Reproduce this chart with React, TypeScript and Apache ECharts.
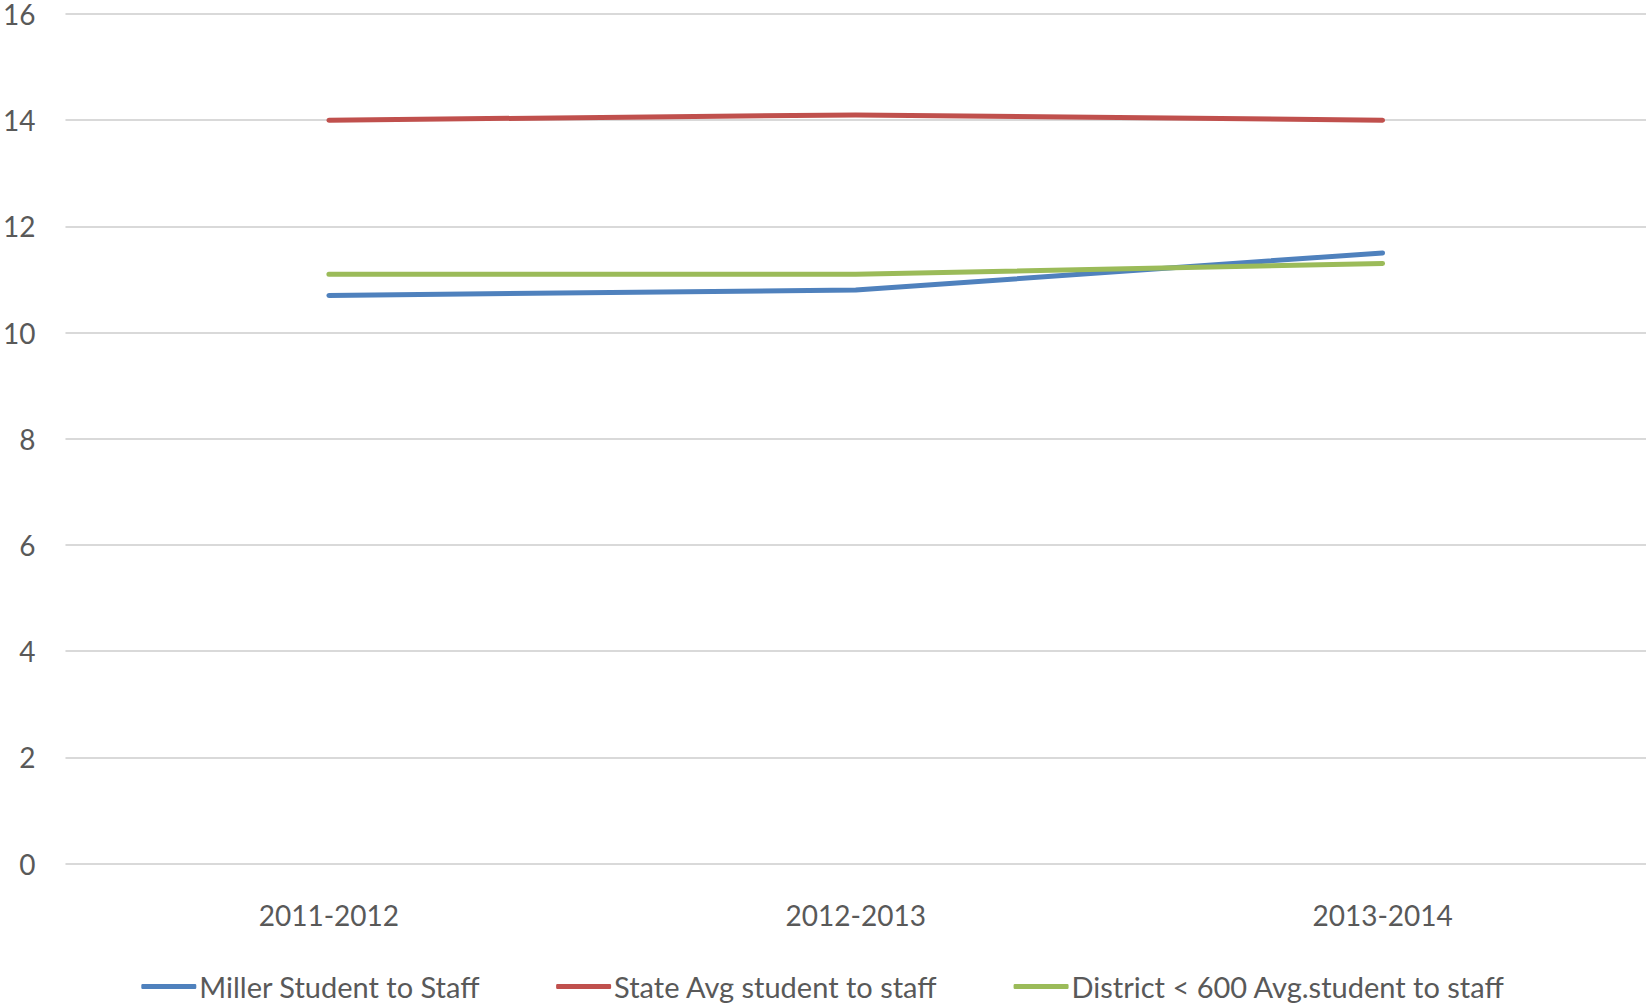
import React, { useEffect, useRef } from "react";
import * as echarts from "echarts";

const categories = ["2011-2012", "2012-2013", "2013-2014"];
const millerValues = [10.7, 10.8, 11.5];
const stateValues = [14.0, 14.1, 14.0];
const districtValues = [11.1, 11.1, 11.3];
const seriesNames = [
  "Miller Student to Staff",
  "State Avg student to staff",
  "District < 600 Avg.student to staff",
];
const colors = ["#4F81BD", "#C0504D", "#9BBB59"];

export default function App() {
  const ref = useRef<HTMLDivElement>(null);
  useEffect(() => {
    if (!ref.current) return;
    const chart = echarts.init(ref.current, undefined, { renderer: "svg" });
    const font = "Lato";
    const textColor = "#595959";
    const data = [millerValues, stateValues, districtValues];
    chart.setOption({
      animation: false,
      backgroundColor: "#ffffff",
      grid: { left: 63, right: 0, top: 12.3, bottom: 140.5, containLabel: false },
      xAxis: {
        type: "category",
        data: categories,
        boundaryGap: true,
        axisLine: { show: false },
        axisTick: { show: false },
        axisLabel: { color: textColor, fontFamily: font, fontSize: 28, margin: 37 },
      },
      yAxis: {
        type: "value",
        min: 0,
        max: 16,
        interval: 2,
        axisLine: { show: false },
        axisTick: { show: false },
        axisLabel: { color: textColor, fontFamily: font, fontSize: 28, margin: 30 },
        splitLine: { lineStyle: { color: "#D9D9D9", width: 2 } },
      },
      legend: {
        bottom: -2,
        left: "center",
        itemWidth: 55,
        itemHeight: 5,
        itemGap: 76,
        icon: "roundRect",
        textStyle: { color: textColor, fontFamily: font, fontSize: 29, padding: [0, 0, 0, -2] },
        data: seriesNames,
      },
      series: seriesNames.map((name, i) => ({
        name,
        type: "line",
        data: data[i],
        showSymbol: false,
        symbol: "none",
        color: colors[i],
        lineStyle: { color: colors[i], width: 5, cap: "round", join: "round" },
      })),
    });
    return () => chart.dispose();
  }, []);
  return (
    <div
      ref={ref}
      style={{ position: "fixed", left: 0, top: 0, width: 1646, height: 1004 }}
    />
  );
}
